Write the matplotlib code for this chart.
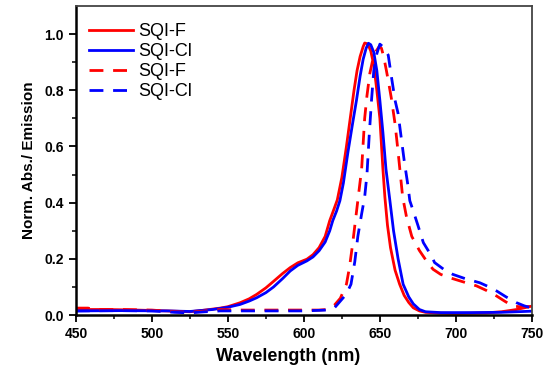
import matplotlib.pyplot as plt

# absorption (solid) and emission (dashed) spectra, normalised
wl_abs_f = [450, 470, 490, 510, 525, 535, 545, 550, 558, 564, 569, 575, 580, 586, 591, 596,
            602, 606, 610, 614, 617, 620, 622, 625, 628, 631, 633, 635, 637, 639, 640, 642,
            644, 646, 648, 650, 652, 653.3, 655, 657, 660, 663, 666, 669, 672, 676, 680, 690,
            700, 720, 730, 740, 750]
abs_f = [0.02, 0.02, 0.018, 0.015, 0.012, 0.018, 0.025, 0.03, 0.044, 0.058, 0.074, 0.097, 0.12,
         0.148, 0.169, 0.186, 0.199, 0.215, 0.24, 0.28, 0.336, 0.38, 0.41, 0.49, 0.6, 0.72, 0.8,
         0.87, 0.92, 0.955, 0.968, 0.965, 0.94, 0.89, 0.8, 0.7, 0.52, 0.42, 0.32, 0.24, 0.16,
         0.11, 0.07, 0.045, 0.026, 0.015, 0.01, 0.007, 0.006, 0.008, 0.012, 0.02, 0.032]

wl_abs_cl = [450, 480, 510, 525, 540, 550, 558, 564, 569, 575, 580, 586, 591, 596, 602, 606,
             610, 614, 617, 619, 621.5, 623.7, 626, 629, 632, 634.6, 637, 639, 641, 642.5, 644,
             646, 648, 650, 652, 654, 656.6, 659, 662, 665.3, 669, 672, 676, 680, 690, 710, 730,
             740, 750]
abs_cl = [0.015, 0.016, 0.015, 0.013, 0.02, 0.028, 0.038, 0.05, 0.062, 0.08, 0.1, 0.13, 0.157,
          0.177, 0.193, 0.207, 0.229, 0.26, 0.3, 0.336, 0.37, 0.407, 0.47, 0.58, 0.68, 0.764,
          0.85, 0.91, 0.95, 0.967, 0.962, 0.935, 0.87, 0.764, 0.65, 0.52, 0.407, 0.3, 0.2, 0.11,
          0.065, 0.04, 0.02, 0.012, 0.009, 0.009, 0.01, 0.012, 0.014]

wl_em_f = [450, 458, 462, 480, 500, 515, 525, 535, 545, 560, 580, 600, 610, 615, 620, 624, 628,
           630, 632, 634, 636, 638, 640, 641.5, 643.4, 645, 647, 649.5, 651, 652.5, 654.3, 656,
           657.6, 660, 662, 665, 667.5, 671, 673, 676, 681, 685, 690, 696, 705, 713.6, 720,
           726.8, 732, 737.6, 742, 746, 750]
em_f = [0.025, 0.025, 0.02, 0.02, 0.018, 0.012, 0.01, 0.015, 0.02, 0.018, 0.018, 0.018, 0.018,
        0.02, 0.035, 0.06, 0.11, 0.17, 0.25, 0.34, 0.43, 0.52, 0.7, 0.78, 0.86, 0.9, 0.935,
        0.955, 0.95, 0.92, 0.87, 0.82, 0.77, 0.68, 0.58, 0.42, 0.35, 0.28, 0.26, 0.23, 0.19,
        0.163, 0.145, 0.133, 0.118, 0.104, 0.088, 0.068, 0.05, 0.032, 0.03, 0.03, 0.03]

wl_em_cl = [450, 480, 500, 515, 525, 535, 545, 570, 600, 615, 620, 624, 628, 631, 633.5, 635.5,
            638, 640, 641.5, 643, 644.5, 646, 648, 650, 652, 655.5, 657.6, 660, 662, 666, 668.5,
            669.7, 672, 675, 678.6, 684, 686, 692, 698, 706, 715.8, 722, 726.8, 733, 740, 745,
            750]
em_cl = [0.015, 0.016, 0.015, 0.01, 0.008, 0.012, 0.015, 0.015, 0.015, 0.018, 0.025, 0.05,
         0.075, 0.11, 0.19, 0.28, 0.36, 0.42, 0.5, 0.64, 0.764, 0.87, 0.93, 0.964, 0.955, 0.925,
         0.848, 0.764, 0.717, 0.55, 0.46, 0.407, 0.37, 0.32, 0.258, 0.21, 0.187, 0.163, 0.145,
         0.13, 0.115, 0.1, 0.086, 0.065, 0.044, 0.033, 0.025]

plt.rcParams['font.family'] = ['Liberation Sans', 'DejaVu Sans']

fig = plt.figure(figsize=(5.5, 3.69), dpi=100)
ax = fig.add_axes([0.138, 0.146, 0.829, 0.838])

dash = (0, (5, 3.5))
ax.plot(wl_abs_f, abs_f, color='#ff0000', lw=2, label='SQI-F')
ax.plot(wl_abs_cl, abs_cl, color='#0000ff', lw=2, label='SQI-Cl')
ax.plot(wl_em_f, em_f, color='#ff0000', lw=2, ls=dash, label='SQI-F')
ax.plot(wl_em_cl, em_cl, color='#0000ff', lw=2, ls=dash, label='SQI-Cl')

ax.set_xlim(450, 750)
ax.set_ylim(0, 1.1)
ax.set_xticks([450, 500, 550, 600, 650, 700, 750])
ax.set_xticks(range(475, 750, 50), minor=True)
ax.set_yticks([0.0, 0.2, 0.4, 0.6, 0.8, 1.0])
ax.set_yticks([0.1, 0.3, 0.5, 0.7, 0.9], minor=True)
ax.tick_params(which='major', direction='out', length=5, width=1.3, labelsize=10)
ax.tick_params(which='minor', direction='out', length=3, width=1.1)
for t in ax.get_xticklabels() + ax.get_yticklabels():
    t.set_fontweight('bold')

ax.spines['left'].set_linewidth(1.8)
ax.spines['bottom'].set_linewidth(1.8)
ax.spines['top'].set_color('#444444')
ax.spines['right'].set_color('#444444')
ax.spines['top'].set_linewidth(1.3)
ax.spines['right'].set_linewidth(1.3)

ax.set_xlabel('Wavelength (nm)', fontsize=13, fontweight='bold')
ax.xaxis.set_label_coords(0.465, -0.105)
ax.set_ylabel('Norm. Abs./ Emission', fontsize=11, fontweight='bold', labelpad=6)

ax.legend(loc='upper left', bbox_to_anchor=(0.0, 0.985), frameon=False, fontsize=13,
          handlelength=2.45, labelspacing=0.17, handletextpad=0.3, borderaxespad=0.3)

fig.savefig('out.png', dpi=100)
